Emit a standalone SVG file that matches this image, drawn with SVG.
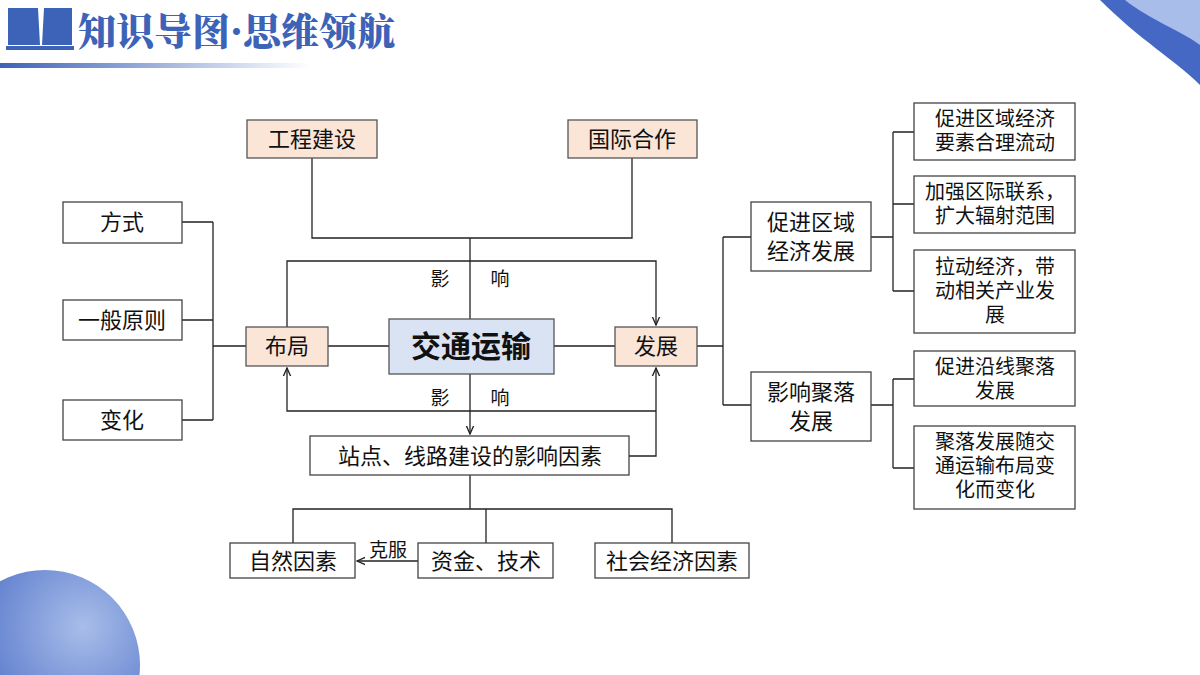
<svg xmlns="http://www.w3.org/2000/svg" width="1200" height="675" viewBox="0 0 1200 675" font-size="22">
<defs>
<linearGradient id="hb" x1="0" x2="1"><stop offset="0" stop-color="#3d63b8"/><stop offset="1" stop-color="#3d63b8" stop-opacity="0"/></linearGradient>
<radialGradient id="bl" cx="0.7" cy="0.3" r="0.8"><stop offset="0" stop-color="#a9bdea"/><stop offset="1" stop-color="#3d63c0"/></radialGradient>
<marker id="ar" viewBox="0 0 10 10" refX="9" refY="5" markerWidth="7" markerHeight="7" orient="auto-start-reverse"><path d="M0,1 L9,5 L0,9" fill="none" stroke="#222" stroke-width="1.5"/></marker>
<style>
.b{fill:#fff;stroke:#444;stroke-width:1.3}
.o{fill:#fbe5d6;stroke:#555;stroke-width:1.3}
.t{font-family:"Noto Sans CJK SC",sans-serif;fill:#111;text-anchor:middle}
.c{fill:none;stroke:#222;stroke-width:1.3}
</style>
</defs>
<rect width="1200" height="675" fill="#fff"/>
<path d="M1100,0 L1200,0 L1200,85 C1175,60 1140,40 1100,0 Z" fill="#4468c4"/>
<path d="M1125,0 L1200,0 L1200,45 C1180,30 1150,20 1125,0 Z" fill="#a9bdea"/>
<circle cx="45" cy="665" r="95" fill="url(#bl)"/>
<g id="header">
<path d="M8,8 L38,8 L40,45 L8,45 Z M42,45 L44,8 L72,8 L72,45 Z" fill="#3d63b8"/>
<rect x="6" y="46" width="68" height="4" fill="#3d63b8"/>
<rect x="0" y="63" width="310" height="5" fill="url(#hb)"/>
<text x="78" y="45" font-family="Noto Serif CJK SC,Noto Sans CJK SC,serif" font-weight="900" font-size="38" fill="#3d63b8">知识导图·思维领航</text>
</g>
<g id="connectors" class="c">
<path d="M312,158 V238 H632 V158 M470,238 V319"/>
<path d="M287,327 V261 H656 V325" marker-end="url(#ar)"/>
<path d="M287,368 V411 H656" marker-start="url(#ar)"/>
<path d="M629,456 H656 V368" marker-end="url(#ar)"/>
<path d="M470,374 V434" marker-end="url(#ar)"/>
<path d="M328,346 H389 M554,346 H615"/>
<path d="M470,475 V509 M293,543 V509 H672 V543 M486,509 V543"/>
<path d="M418,561 H357" marker-end="url(#ar)"/>
<path d="M182,222 H213 M182,320 H213 M182,420 H213 M213,222 V420 M213,346 H246"/>
<path d="M697,346 H723 M723,237 V405 M723,237 H751 M723,405 H751"/>
<path d="M871,237 H893 M893,132 V291 M893,132 H914 M893,204 H914 M893,291 H914"/>
<path d="M871,405 H893 M893,379 V468 M893,379 H914 M893,468 H914"/>
</g>
<g class="t" font-size="19">
<text x="440" y="286">影</text><text x="500" y="286">响</text>
<text x="440" y="405">影</text><text x="500" y="405">响</text>
<text x="388" y="557">克服</text>
</g>
<g id="center"><rect x="389" y="319" width="165" height="55" fill="#dae3f3" stroke="#555" stroke-width="1.3"/><text class="t" x="471" y="357" font-size="30" font-weight="bold">交通运输</text></g>
<g id="buju"><rect class="o" x="246" y="327" width="82" height="39"/><text class="t" x="287" y="354">布局</text></g>
<g id="fazhan"><rect class="o" x="615" y="327" width="82" height="39"/><text class="t" x="656" y="354">发展</text></g>
<g id="gongcheng"><rect class="o" x="247" y="120" width="130" height="38"/><text class="t" x="312" y="147">工程建设</text></g>
<g id="guoji"><rect class="o" x="568" y="120" width="129" height="38"/><text class="t" x="632" y="147">国际合作</text></g>
<g id="zhandian"><rect class="b" x="310" y="436" width="319" height="39"/><text class="t" x="470" y="464">站点、线路建设的影响因素</text></g>
<g id="ziran"><rect class="b" x="230" y="543" width="125" height="35"/><text class="t" x="293" y="569">自然因素</text></g>
<g id="zijin"><rect class="b" x="418" y="543" width="135" height="35"/><text class="t" x="486" y="569">资金、技术</text></g>
<g id="shehui"><rect class="b" x="595" y="543" width="154" height="35"/><text class="t" x="672" y="569">社会经济因素</text></g>
<g id="fangshi"><rect class="b" x="63" y="202" width="119" height="41"/><text class="t" x="122" y="230">方式</text></g>
<g id="yuanze"><rect class="b" x="63" y="300" width="119" height="40"/><text class="t" x="122" y="328">一般原则</text></g>
<g id="bianhua"><rect class="b" x="63" y="400" width="119" height="40"/><text class="t" x="122" y="428">变化</text></g>
<g id="cujin"><rect class="b" x="751" y="202" width="120" height="69"/><text class="t" x="811" y="230">促进区域</text><text class="t" x="811" y="259">经济发展</text></g>
<g id="julu"><rect class="b" x="751" y="372" width="120" height="69"/><text class="t" x="811" y="400">影响聚落</text><text class="t" x="811" y="429">发展</text></g>
<g id="r1" font-size="20"><rect class="b" x="914" y="103" width="161" height="57"/><text class="t" x="995" y="126">促进区域经济</text><text class="t" x="995" y="150">要素合理流动</text></g>
<g id="r2" font-size="20"><rect class="b" x="914" y="176" width="161" height="57"/><text class="t" x="995" y="199">加强区际联系，</text><text class="t" x="995" y="223">扩大辐射范围</text></g>
<g id="r3" font-size="20"><rect class="b" x="914" y="250" width="161" height="83"/><text class="t" x="995" y="274">拉动经济，带</text><text class="t" x="995" y="298">动相关产业发</text><text class="t" x="995" y="322">展</text></g>
<g id="r4" font-size="20"><rect class="b" x="914" y="351" width="161" height="55"/><text class="t" x="995" y="374">促进沿线聚落</text><text class="t" x="995" y="398">发展</text></g>
<g id="r5" font-size="20"><rect class="b" x="914" y="426" width="161" height="83"/><text class="t" x="995" y="449">聚落发展随交</text><text class="t" x="995" y="473">通运输布局变</text><text class="t" x="995" y="497">化而变化</text></g>
</svg>
